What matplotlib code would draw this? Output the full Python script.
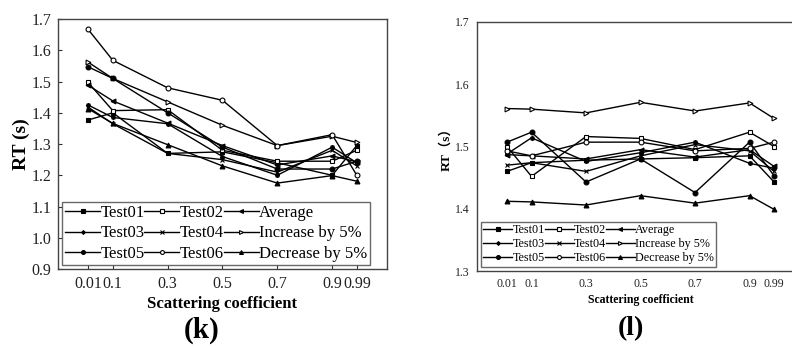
import matplotlib
matplotlib.use("Agg")
import matplotlib.pyplot as plt

x_vals = [0.01, 0.1, 0.3, 0.5, 0.7, 0.9, 0.99]
x_ticklabels = ["0.01", "0.1", "0.3", "0.5", "0.7", "0.9", "0.99"]
series_names = ["Test01", "Test02", "Average", "Test03", "Test04",
                "Increase by 5%", "Test05", "Test06", "Decrease by 5%"]

# Panel (k)
k_test01 = [1.377, 1.400, 1.270, 1.275, 1.240, 1.200, 1.295]
k_test02 = [1.497, 1.407, 1.410, 1.280, 1.245, 1.245, 1.280]
k_average = [1.488, 1.438, 1.367, 1.295, 1.233, 1.262, 1.243]
k_test03 = [1.425, 1.385, 1.365, 1.260, 1.200, 1.290, 1.240]
k_test04 = [1.418, 1.365, 1.270, 1.250, 1.210, 1.280, 1.230]
k_increase = [1.562, 1.510, 1.435, 1.360, 1.295, 1.325, 1.305]
k_test05 = [1.547, 1.510, 1.400, 1.290, 1.220, 1.220, 1.245]
k_test06 = [1.667, 1.568, 1.480, 1.440, 1.295, 1.330, 1.200]
k_decrease = [1.413, 1.366, 1.298, 1.230, 1.175, 1.199, 1.181]

# Panel (l)
l_test01 = [1.460, 1.474, 1.478, 1.480, 1.482, 1.485, 1.443]
l_test02 = [1.500, 1.452, 1.516, 1.513, 1.495, 1.523, 1.500]
l_average = [1.487, 1.485, 1.480, 1.495, 1.483, 1.495, 1.468]
l_test03 = [1.488, 1.514, 1.476, 1.490, 1.507, 1.473, 1.465]
l_test04 = [1.470, 1.474, 1.460, 1.485, 1.503, 1.493, 1.460]
l_increase = [1.561, 1.560, 1.554, 1.571, 1.557, 1.570, 1.545]
l_test05 = [1.507, 1.523, 1.443, 1.480, 1.426, 1.507, 1.453]
l_test06 = [1.493, 1.485, 1.507, 1.507, 1.493, 1.497, 1.507]
l_decrease = [1.412, 1.411, 1.406, 1.421, 1.409, 1.421, 1.399]

k_data = [k_test01, k_test02, k_average, k_test03, k_test04, k_increase,
          k_test05, k_test06, k_decrease]
l_data = [l_test01, l_test02, l_average, l_test03, l_test04, l_increase,
          l_test05, l_test06, l_decrease]

styles = [
    dict(marker="s", mfc="black"),
    dict(marker="s", mfc="white"),
    dict(marker="<", mfc="black"),
    dict(marker=(8, 2, 0), mfc="black"),
    dict(marker="x", mfc="black"),
    dict(marker=">", mfc="white"),
    dict(marker="o", mfc="black"),
    dict(marker="o", mfc="white"),
    dict(marker="^", mfc="black"),
]

serif = ["Liberation Serif", "DejaVu Serif"]
plt.rcParams["font.family"] = serif

fig = plt.figure(figsize=(7.92, 3.47), dpi=100)

def panel(rect, data, tick_fs, label_fs, ylabel_fs, leg_fs, ylabel, ms, lw,
          ticklen, leg_anchor, labelspacing, handlelength):
    ax = fig.add_axes(rect)
    handles = []
    for vals, name, st in zip(data, series_names, styles):
        h, = ax.plot(x_vals, vals, color="black", lw=lw, ms=ms, mec="black",
                     mew=0.8, label=name, **st)
        handles.append(h)
    ax.set_xlim(-0.1, 1.1)
    ax.set_xticks(x_vals)
    ax.set_xticklabels(x_ticklabels)
    ax.tick_params(direction="in", length=ticklen, labelsize=tick_fs, colors="#333333",
                   labelcolor="#222222", pad=5)
    for sp in ax.spines.values():
        sp.set_color("#444444")
        sp.set_linewidth(1.0)
    ax.set_xlabel("Scattering coefficient", fontsize=label_fs, fontweight="bold",
                  labelpad=3)
    ax.set_ylabel(ylabel, fontsize=ylabel_fs, fontweight="bold",
                  family=serif + ["Noto Sans CJK SC"])
    # reorder so that row-major reading matches the original legend
    order = [0, 3, 6, 1, 4, 7, 2, 5, 8]
    leg = ax.legend([handles[i] for i in order], [series_names[i] for i in order],
                    ncol=3, loc="lower left", bbox_to_anchor=leg_anchor,
                    fontsize=leg_fs, frameon=True, fancybox=False, edgecolor="#444444",
                    handlelength=handlelength, handletextpad=0.0, columnspacing=0.0,
                    labelspacing=labelspacing, borderpad=0.2, borderaxespad=0.0,
                    markerscale=0.8)
    leg.get_frame().set_linewidth(1.0)
    return ax

axk = panel([0.0732, 0.2248, 0.4154, 0.7202], k_data, 11.5, 12, 14, 12, "RT (s)",
            3.5, 1.0, 3, (0.012, 0.016), 0.25, 2.1)
axk.set_ylim(0.9, 1.7)
axk.set_yticks([0.9, 1.0, 1.1, 1.2, 1.3, 1.4, 1.5, 1.6, 1.7])
axk.yaxis.set_major_formatter(matplotlib.ticker.FormatStrFormatter("%.1f"))
axk.yaxis.labelpad = 1

axl = panel([0.6023, 0.219, 0.4129, 0.7176], l_data, 8.5, 8.5, 9.5, 8.7, "RT（s）",
            3.5, 1.0, 0, (0.012, 0.018), 0.15, 2.4)
axl.set_ylim(1.3, 1.7)
axl.set_yticks([1.3, 1.4, 1.5, 1.6, 1.7])
axl.yaxis.set_major_formatter(matplotlib.ticker.FormatStrFormatter("%.1f"))
axl.yaxis.labelpad = 2

fig.text(0.254, 0.049, "(k)", fontsize=21, fontweight="bold", ha="center", va="center")
fig.text(0.797, 0.052, "(l)", fontsize=20, fontweight="bold", ha="center", va="center")

fig.savefig("out.png", dpi=100)
